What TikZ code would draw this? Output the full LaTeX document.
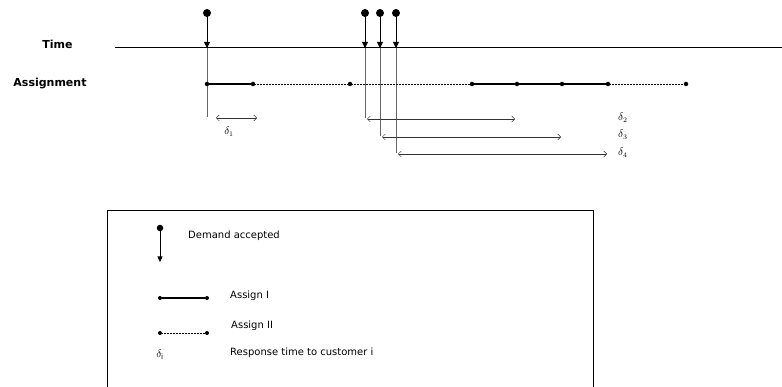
\documentclass[tikz,border=0pt]{standalone}
\usepackage{fontspec}
\setmainfont{DejaVu Sans}
\usetikzlibrary{positioning,arrows.meta}

\begin{document}
\begin{tikzpicture}[
    x=1pt, y=-1pt,
    font=\fontsize{10}{12}\selectfont,
    rowlabel/.style={font=\fontsize{11}{13}\selectfont\bfseries, inner sep=0pt},
    demdot/.style={circle, fill=black, inner sep=0pt, minimum size=8pt},
    asgdot/.style={circle, fill=black, inner sep=0pt, minimum size=4.5pt},
    demand/.style={-{Triangle[length=6pt,width=6pt]}, line width=0.9pt, shorten <=-1pt},
    guide/.style={black!60, line width=0.6pt},
    assignI/.style={line width=1.1pt},
    assignII/.style={line width=0.5pt, densely dotted},
    resp/.style={{Straight Barb[length=3pt,width=6pt]}-{Straight Barb[length=3pt,width=6pt]}, line width=0.5pt, black!80},
    dlabel/.style={font=\fontsize{10.5}{12}\selectfont, inner sep=0pt},
    legtext/.style={anchor=west, inner sep=0pt},
]
  \useasboundingbox (0,0) rectangle (782,387);
  %% rows
  \node[rowlabel] (time) at (57.5,44) {Time};
  \node[rowlabel] (assign) at (50,84) {Assignment};
  \coordinate (tl0) at (115,48);
  \coordinate (tl1) at (782,48);
  \draw[line width=1pt] (tl0) -- (tl1);
  %% accepted demands
  \foreach \i/\x/\e in {1/207/117, 2/365/118, 3/380/136, 4/396/153}{
    \node[demdot] (d\i) at (\x,13) {};
    \coordinate (t\i) at (\x,48);
    \coordinate (e\i) at (\x,\e);
    \draw[demand] (d\i) -- (t\i);
    \draw[guide] (t\i) -- (e\i);
  }
  %% assignment
  \foreach \i/\x in {1/207, 2/253, 3/350, 4/472, 5/517, 6/562, 7/608, 8/686}
    \node[asgdot] (a\i) at (\x,84) {};
  \draw[assignI] (a1) -- (a2);
  \draw[assignII] (a2) -- (a3) -- (a4);
  \draw[assignI] (a4) -- (a5) -- (a6) -- (a7);
  \draw[assignII] (a7) -- (a8);
  %% response times
  \coordinate (r1a) at (216,118); \coordinate (r1b) at (257,118);
  \coordinate (r2a) at (367,119); \coordinate (r2b) at (515,119);
  \coordinate (r3a) at (382,137); \coordinate (r3b) at (561,137);
  \coordinate (r4a) at (398,154); \coordinate (r4b) at (607,154);
  \draw[resp] (r1a) -- (r1b);
  \draw[resp] (r2a) -- (r2b);
  \draw[resp] (r3a) -- (r3b);
  \draw[resp] (r4a) -- (r4b);
  \node[dlabel] (l1) at (229,132) {$\delta_1$};
  \node[dlabel, anchor=west] (l2) at (618,118) {$\delta_2$};
  \node[dlabel, anchor=west] (l3) at (618,135) {$\delta_3$};
  \node[dlabel, anchor=west] (l4) at (618,153) {$\delta_4$};
  %% legend
  \draw[line width=0.8pt] (107,392) |- (593,210) -- (593,392);
  \node[demdot, minimum size=6.5pt] (ld) at (160,228) {};
  \coordinate (ldt) at (160,262);
  \draw[demand, line width=0.6pt, -{Triangle[length=5.5pt,width=5pt]}] (ld) -- (ldt);
  \node[legtext] (ldtext) at (188,236) {Demand accepted};
  \node[asgdot, minimum size=4pt] (lia) at (160,298) {};
  \node[asgdot, minimum size=4pt] (lib) at (207,298) {};
  \draw[assignI] (lia) -- (lib);
  \node[legtext] (litext) at (230,296) {Assign I};
  \node[asgdot, minimum size=4pt] (liia) at (160,333) {};
  \node[asgdot, minimum size=4pt] (liib) at (207,333) {};
  \draw[assignII] (liia) -- (liib);
  \node[legtext] (liitext) at (231,326) {Assign II};
  \node[dlabel] (lsym) at (160,355) {$\delta_{\mathrm{i}}$};
  \node[legtext] (lrtext) at (230,353) {Response time to customer i};
\end{tikzpicture}
\end{document}
